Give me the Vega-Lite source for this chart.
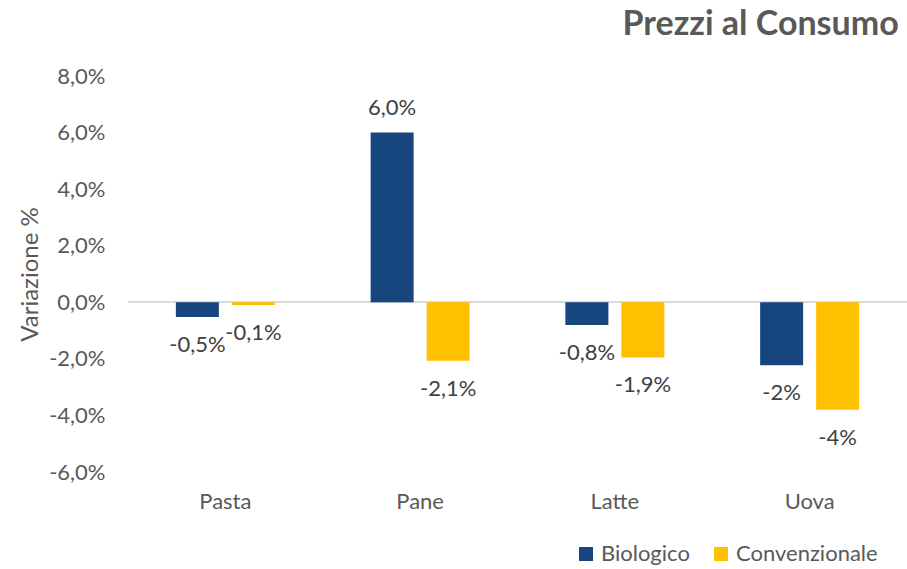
{
  "$schema": "https://vega.github.io/schema/vega-lite/v6.json",
  "width": 779,
  "height": 396,
  "autosize": "none",
  "padding": {"left": 128, "top": 76, "right": 0, "bottom": 97},
  "background": "white",
  "config": {"font": "Lato", "view": {"stroke": null}},
  "title": {"text": "Prezzi al Consumo", "anchor": "end", "fontSize": 34, "fontWeight": "bold", "color": "#595959", "offset": 23, "dx": -9},
  "data": {
    "values": [
      {"categoria": "Pasta", "serie": "Biologico", "valore": -0.52, "etichetta": "-0,5%"},
      {"categoria": "Pasta", "serie": "Convenzionale", "valore": -0.1, "etichetta": "-0,1%"},
      {"categoria": "Pane", "serie": "Biologico", "valore": 6.0, "etichetta": "6,0%"},
      {"categoria": "Pane", "serie": "Convenzionale", "valore": -2.07, "etichetta": "-2,1%"},
      {"categoria": "Latte", "serie": "Biologico", "valore": -0.8, "etichetta": "-0,8%"},
      {"categoria": "Latte", "serie": "Convenzionale", "valore": -1.95, "etichetta": "-1,9%"},
      {"categoria": "Uova", "serie": "Biologico", "valore": -2.23, "etichetta": "-2%"},
      {"categoria": "Uova", "serie": "Convenzionale", "valore": -3.8, "etichetta": "-4%"}
    ]
  },
  "layer": [
    {
      "mark": {"type": "rule", "color": "#d9d9d9", "strokeWidth": 1.5},
      "encoding": {"y": {"datum": 0, "type": "quantitative"}}
    },
    {
      "mark": {"type": "bar"},
      "encoding": {
        "x": {"field": "categoria", "type": "nominal", "sort": ["Pasta", "Pane", "Latte", "Uova"],
          "scale": {"paddingInner": 0.4917, "paddingOuter": 0.2458},
          "axis": {"title": null, "labelAngle": 0, "domain": false, "ticks": false, "labelPadding": 19, "labelFontSize": 22, "labelColor": "#595959"}},
        "xOffset": {"field": "serie", "type": "nominal", "sort": ["Biologico", "Convenzionale"], "scale": {"paddingInner": 0.232, "paddingOuter": 0}},
        "y": {"field": "valore", "type": "quantitative",
          "scale": {"domain": [-6, 8], "nice": false, "zero": true},
          "axis": {"values": [-6, -4, -2, 0, 2, 4, 6, 8], "grid": false, "domain": false, "ticks": false,
            "labelExpr": "replace((datum.value < 0 ? '-' : '') + format(abs(datum.value), '.1f'), '.', ',') + '%'",
            "labelPadding": 23, "labelFontSize": 22, "labelColor": "#595959",
            "title": "Variazione %", "titleFontSize": 24, "titleFontWeight": "normal", "titleColor": "#595959", "titlePadding": 6}},
        "color": {"field": "serie", "type": "nominal",
          "scale": {"domain": ["Biologico", "Convenzionale"], "range": ["#17467F", "#FFC000"]},
          "legend": {"orient": "none", "legendX": 447, "legendY": 467, "direction": "horizontal", "title": null,
            "symbolType": "square", "symbolSize": 196, "symbolStrokeWidth": 0, "labelFontSize": 22, "labelColor": "#595959",
            "columnPadding": 20, "labelOffset": 4}}
      }
    },
    {
      "transform": [{"filter": "datum.valore >= 0"}],
      "mark": {"type": "text", "baseline": "middle", "dy": -25, "fontSize": 22, "color": "#404040"},
      "encoding": {
        "x": {"field": "categoria", "type": "nominal", "sort": ["Pasta", "Pane", "Latte", "Uova"]},
        "xOffset": {"field": "serie", "type": "nominal", "sort": ["Biologico", "Convenzionale"]},
        "y": {"field": "valore", "type": "quantitative"},
        "text": {"field": "etichetta"}
      }
    },
    {
      "transform": [{"filter": "datum.valore < 0"}],
      "mark": {"type": "text", "baseline": "middle", "dy": 28, "fontSize": 22, "color": "#404040"},
      "encoding": {
        "x": {"field": "categoria", "type": "nominal", "sort": ["Pasta", "Pane", "Latte", "Uova"]},
        "xOffset": {"field": "serie", "type": "nominal", "sort": ["Biologico", "Convenzionale"]},
        "y": {"field": "valore", "type": "quantitative"},
        "text": {"field": "etichetta"}
      }
    }
  ]
}
